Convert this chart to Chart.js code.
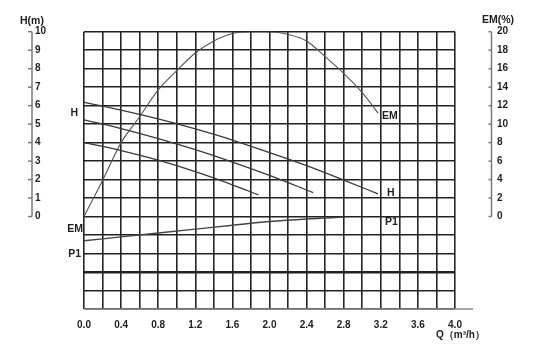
<!DOCTYPE html>
<html><head><meta charset="utf-8">
<script src="https://cdn.jsdelivr.net/npm/chart.js@4/dist/chart.umd.min.js"></script>
<style>html,body{margin:0;padding:0;background:#fff}</style>
</head><body>
<canvas id="c" width="534" height="354"></canvas>
<script>
// Flow rate Q (m³/h) and head H (m) for three speed curves
const qH1 = [0, 0.4, 0.8, 1.2, 1.6, 2.0, 2.4, 2.8, 3.17];
const h1  = [6.18, 5.76, 5.28, 4.74, 4.14, 3.46, 2.75, 1.97, 1.23];
const qH2 = [0, 0.4, 0.8, 1.2, 1.6, 2.0, 2.47];
const h2  = [5.23, 4.76, 4.22, 3.62, 2.95, 2.23, 1.30];
const qH3 = [0, 0.4, 0.8, 1.2, 1.6, 1.88];
const h3  = [4.00, 3.57, 3.05, 2.43, 1.72, 1.17];
// Efficiency EM (%)
const qEM = [0, 0.2, 0.4, 0.6, 0.8, 1.0, 1.2, 1.4, 1.6, 1.8, 2.0, 2.2, 2.4, 2.6, 2.8, 3.0, 3.17];
const em  = [0, 3.9, 8.0, 10.8, 13.7, 15.8, 17.7, 19.0, 19.8, 20.0, 20.0, 19.7, 19.0, 17.3, 15.5, 13.4, 11.2];
// Power P1 (drawn in the lower band of the grid, grid units)
const qP1 = [0, 0.4, 0.8, 1.2, 1.6, 2.0, 2.4, 2.8];
const p1  = [-1.31, -1.10, -0.89, -0.68, -0.47, -0.27, -0.13, -0.03];
// Tick labels
const hTicks  = [0, 1, 2, 3, 4, 5, 6, 7, 8, 9, 10];
const emTicks = [0, 2, 4, 6, 8, 10, 12, 14, 16, 18, 20];

const FONT = '"Liberation Sans", Arial, Helvetica, sans-serif';
const TXT = '#1e1e1e';
const pts = (qs, vs) => qs.map((q, i) => ({x: q, y: vs[i]}));

const decor = {
  id: 'decor',
  afterDraw(chart) {
    const {ctx, chartArea: a, scales: {x, yH, yEM}} = chart;
    ctx.save();
    // left H axis line with ticks
    ctx.strokeStyle = '#7a7a7a'; ctx.lineWidth = 1.5;
    const lx = 32;
    ctx.beginPath();
    ctx.moveTo(lx, yH.getPixelForValue(hTicks[hTicks.length - 1]));
    ctx.lineTo(lx, yH.getPixelForValue(hTicks[0]));
    ctx.stroke();
    hTicks.forEach(v => { const y = yH.getPixelForValue(v); ctx.beginPath(); ctx.moveTo(lx - 4, y); ctx.lineTo(lx, y); ctx.stroke(); });
    // right EM axis line with ticks
    const rx = 491.5;
    ctx.beginPath();
    ctx.moveTo(rx, yEM.getPixelForValue(emTicks[emTicks.length - 1]));
    ctx.lineTo(rx, yEM.getPixelForValue(emTicks[0]));
    ctx.stroke();
    emTicks.forEach(v => { const y = yEM.getPixelForValue(v); ctx.beginPath(); ctx.moveTo(rx - 3, y); ctx.lineTo(rx, y); ctx.stroke(); });
    // bottom axis extension
    ctx.strokeStyle = '#8a8a8a'; ctx.lineWidth = 1.5;
    ctx.beginPath(); ctx.moveTo(a.left, a.bottom); ctx.lineTo(a.right + 18, a.bottom); ctx.stroke();
    // titles
    ctx.fillStyle = TXT; ctx.textBaseline = 'middle'; ctx.textAlign = 'left';
    ctx.font = 'bold 10.5px ' + FONT;
    ctx.fillText('H(m)', 20, 21.5);
    ctx.fillText('EM(%)', 482, 20.5);
    ctx.font = 'bold 10px ' + FONT;
    ctx.fillText('Q（m³/h）', 436, 335);
    // curve labels
    ctx.font = 'bold 10.5px ' + FONT;
    ctx.textAlign = 'right';
    ctx.fillText('H', a.left - 6, (yH.getPixelForValue(h1[0]) + yH.getPixelForValue(h2[0])) / 2 + 2);
    ctx.fillText('EM', a.left - 1, 229);
    ctx.fillText('P1', a.left - 3, 254);
    ctx.textAlign = 'left';
    ctx.fillText('EM', x.getPixelForValue(qEM[qEM.length - 1]) + 4, yEM.getPixelForValue(em[em.length - 1]) + 3);
    ctx.fillText('H', x.getPixelForValue(qH1[qH1.length - 1]) + 9, yH.getPixelForValue(h1[h1.length - 1]) - 1);
    ctx.fillText('P1', 385, 222.5);
    ctx.restore();
  }
};

const lineDs = (label, data, axis, color, width) => ({
  label, data, yAxisID: axis, borderColor: color, borderWidth: width,
  pointRadius: 0, fill: false, cubicInterpolationMode: 'monotone'
});

new Chart(document.getElementById('c'), {
  type: 'line',
  data: {
    datasets: [
      lineDs('H1', pts(qH1, h1), 'yH', '#3a3a3a', 1.3),
      lineDs('H2', pts(qH2, h2), 'yH', '#3a3a3a', 1.3),
      lineDs('H3', pts(qH3, h3), 'yH', '#3a3a3a', 1.3),
      lineDs('EM', pts(qEM, em), 'yEM', '#555', 1.1),
      lineDs('P1', pts(qP1, p1), 'yH', '#444', 1.4)
    ]
  },
  options: {
    responsive: false, animation: false, events: [],
    layout: {padding: {top: 31.7, left: 35, right: 0, bottom: 0}},
    plugins: {legend: {display: false}, tooltip: {enabled: false}, title: {display: false}},
    scales: {
      x: {
        type: 'linear', min: 0, max: 4,
        ticks: {stepSize: 0.2, autoSkip: false, maxRotation: 0, padding: 10,
          callback: (v, i) => (i % 2 ? '' : Number(v).toFixed(1)),
          font: {family: FONT, size: 10, weight: 'bold'}, color: TXT},
        grid: {color: '#262626', lineWidth: 1.6, drawTicks: false},
        border: {display: false},
        afterFit(s) { s.height = 45; }
      },
      yH: {
        position: 'left', min: -5, max: 10,
        ticks: {stepSize: 1, crossAlign: 'far', padding: 0, callback: v => (v < 0 ? '' : v),
          font: {family: FONT, size: 10, weight: 'bold'}, color: TXT},
        grid: {color: '#222', lineWidth: c => (c.tick && c.tick.value === -3 ? 2.6 : 1.6), drawTicks: false},
        border: {display: false},
        afterFit(s) { s.width = 49; }
      },
      yEM: {
        position: 'right', min: -10, max: 20,
        ticks: {stepSize: 2, padding: 0, callback: v => (v < 0 ? '' : v),
          font: {family: FONT, size: 10, weight: 'bold'}, color: TXT},
        grid: {display: true, drawOnChartArea: false, drawTicks: true, tickLength: 42, color: 'rgba(0,0,0,0)'},
        border: {display: false},
        afterFit(s) { s.width = 79; }
      }
    }
  },
  plugins: [decor]
});
</script>
</body></html>
